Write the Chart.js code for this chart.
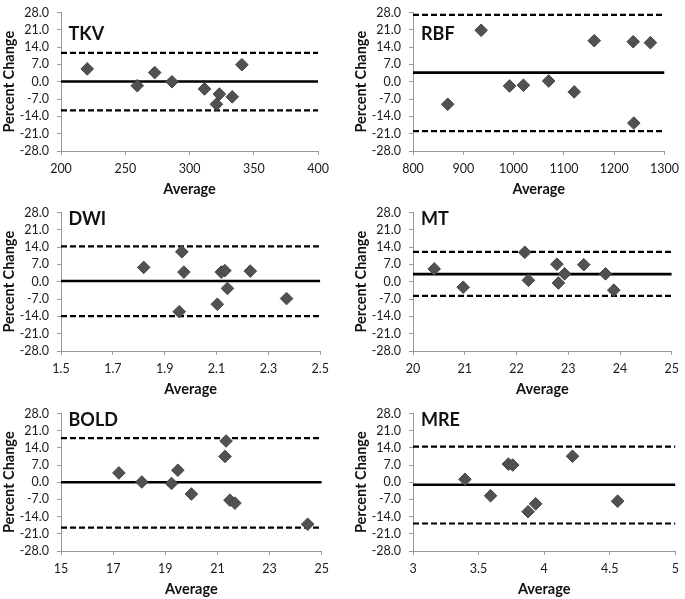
<!DOCTYPE html>
<html>
<head>
<meta charset="utf-8">
<script src="https://cdn.jsdelivr.net/npm/chart.js@4.4.1/dist/chart.umd.min.js"></script>
<style>
  html, body { margin: 0; padding: 0; background: #fff; overflow: hidden; }
  #wrap { position: relative; width: 685px; height: 599px; overflow: hidden; }
  #wrap canvas { position: absolute; }
</style>
</head>
<body>
<div id="wrap"></div>
<script>
// Panel names, in reading order
const panelNames = ['TKV', 'RBF', 'DWI', 'MT', 'BOLD', 'MRE'];

// Average (x) and percent change (y) for each panel
const tkvAvg = [220.4, 259.3, 272.9, 286.3, 311.6, 323.2, 320.9, 333.2, 340.7];
const tkvChange = [5.2, -1.6, 3.7, 0.0, -2.9, -5.0, -9.1, -6.1, 6.9];

const rbfAvg = [869, 935.5, 992, 1019.5, 1069.7, 1120.5, 1160.3, 1237.8, 1239, 1272];
const rbfChange = [-9.1, 20.8, -1.7, -1.4, 0.3, -4.1, 16.6, 16.2, -16.7, 15.8];

const dwiAvg = [1.819, 1.966, 1.974, 1.956, 2.103, 2.118, 2.132, 2.142, 2.23, 2.37];
const dwiChange = [5.8, 12.1, 3.9, -12.1, -9.1, 3.9, 4.5, -2.7, 4.3, -6.8];

const mtAvg = [20.41, 20.97, 22.16, 22.23, 22.78, 22.81, 22.93, 23.30, 23.72, 23.88];
const mtChange = [5.2, -2.2, 11.9, 0.6, 7.1, -0.5, 3.2, 6.9, 3.2, -3.4];

const boldAvg = [17.22, 18.1, 19.24, 19.48, 20.0, 21.29, 21.33, 21.48, 21.67, 24.46];
const boldChange = [3.8, 0.1, -0.5, 4.9, -4.8, 10.5, 16.8, -7.3, -8.5, -17.1];

const mreAvg = [3.396, 3.591, 3.727, 3.76, 3.877, 3.935, 4.216, 4.56];
const mreChange = [1.2, -5.5, 7.4, 7.0, -12.0, -8.8, 10.6, -7.7];

// Mean difference and limits of agreement
const meanDiff = [0.1, 3.7, 0.3, 3.1, 0.0, -1.0];
const upperLoA = [11.7, 27.0, 14.3, 12.1, 18.0, 14.5];
const lowerLoA = [-11.6, -20.0, -13.9, -5.7, -18.5, -16.8];

// Axis ranges
const xMin = [200, 800, 1.5, 20, 15, 3];
const xMax = [400, 1300, 2.5, 25, 25, 5];
const xStep = [50, 100, 0.2, 1, 2, 0.5];
const xDecimals = [0, 0, 1, 0, 0, null];
const yTickMin = -28;
const yTickMax = 28;
const yTickStep = 7;

const avgs = [tkvAvg, rbfAvg, dwiAvg, mtAvg, boldAvg, mreAvg];
const changes = [tkvChange, rbfChange, dwiChange, mtChange, boldChange, mreChange];

// Plot-area boxes [left, top, right, bottom] in page pixels
const plotBoxes = [
  [61, 7, 320, 151],
  [413, 7, 669, 151],
  [61, 207, 322, 351],
  [413, 207, 676, 351],
  [61, 408, 324, 551],
  [413, 408, 679, 551]
];
// Panel label baseline offset from plot top
const labelDy = [27, 27, 12, 12, 12, 12];

const FONT = 'Lato, "Open Sans", sans-serif';

// Draws the panel name inside the plot area
const panelLabel = {
  id: 'panelLabel',
  afterDraw(chart, args, opts) {
    const { ctx, chartArea } = chart;
    ctx.save();
    ctx.font = 'bold 18px ' + FONT;
    ctx.fillStyle = '#111';
    ctx.textBaseline = 'alphabetic';
    ctx.fillText(opts.text, chartArea.left + opts.dx, chartArea.top + opts.dy);
    ctx.restore();
  }
};

function hLine(i, y) {
  return [{ x: xMin[i], y: y }, { x: xMax[i], y: y }];
}

function buildPanel(i) {
  const [pl, pt, pr, pb] = plotBoxes[i];
  const rightCol = i % 2 === 1;
  const canvasLeft = rightCol ? 340 : 0;
  const canvasWidth = rightCol ? 345 : 335;
  const canvasTop = pt - 10;
  const xAxisHeight = 47;
  const canvasHeight = pb - canvasTop + xAxisHeight;

  const canvas = document.createElement('canvas');
  canvas.width = canvasWidth;
  canvas.height = canvasHeight;
  canvas.style.left = canvasLeft + 'px';
  canvas.style.top = canvasTop + 'px';
  canvas.style.width = canvasWidth + 'px';
  canvas.style.height = canvasHeight + 'px';
  document.getElementById('wrap').appendChild(canvas);

  const points = avgs[i].map((x, k) => ({ x: x, y: changes[i][k] }));

  new Chart(canvas.getContext('2d'), {
    type: 'scatter',
    data: {
      datasets: [
        {
          label: panelNames[i],
          data: points,
          pointStyle: 'rectRot',
          pointRadius: 6.3,
          pointHoverRadius: 6.3,
          backgroundColor: '#515151',
          borderColor: '#444',
          borderWidth: 1
        },
        {
          label: 'Mean',
          data: hLine(i, meanDiff[i]),
          showLine: true,
          pointRadius: 0,
          borderColor: '#000',
          borderWidth: 2.6
        },
        {
          label: 'Upper',
          data: hLine(i, upperLoA[i]),
          showLine: true,
          pointRadius: 0,
          borderColor: '#000',
          borderWidth: 2.2,
          borderDash: [6, 3]
        },
        {
          label: 'Lower',
          data: hLine(i, lowerLoA[i]),
          showLine: true,
          pointRadius: 0,
          borderColor: '#000',
          borderWidth: 2.2,
          borderDash: [6, 3]
        }
      ]
    },
    options: {
      responsive: false,
      animation: false,
      events: [],
      layout: { padding: { left: 0, top: 10, right: canvasLeft + canvasWidth - pr, bottom: 0 } },
      plugins: {
        legend: { display: false },
        tooltip: { enabled: false },
        panelLabel: { text: panelNames[i], dx: rightCol ? 8 : 7.5, dy: labelDy[i] }
      },
      scales: {
        x: {
          type: 'linear',
          min: xMin[i],
          max: xMax[i],
          afterFit(scale) { scale.height = xAxisHeight; },
          ticks: {
            stepSize: xStep[i],
            autoSkip: false,
            maxRotation: 0,
            padding: 6,
            color: '#1a1a1a',
            font: { family: FONT, size: 12.5 },
            callback: v => xDecimals[i] === null ? String(v) : Number(v).toFixed(xDecimals[i])
          },
          grid: { drawOnChartArea: false, drawTicks: true, tickLength: 4, color: '#999' },
          border: { color: '#999' },
          title: {
            display: true,
            text: 'Average',
            color: '#111',
            padding: 0,
            font: { family: FONT, size: 14.5, weight: 'bold' }
          }
        },
        y: {
          min: yTickMin,
          max: yTickMax,
          afterFit(scale) { scale.width = pl - canvasLeft; },
          ticks: {
            stepSize: yTickStep,
            autoSkip: false,
            padding: 8,
            color: '#1a1a1a',
            font: { family: FONT, size: 12.5 },
            callback: v => Number(v).toFixed(1)
          },
          grid: { drawOnChartArea: false, drawTicks: true, tickLength: 4, color: '#999' },
          border: { color: '#999' },
          title: {
            display: true,
            text: 'Percent Change',
            color: '#111',
            padding: { top: rightCol ? 13 : 1, bottom: 0 },
            font: { family: FONT, size: 14.5, weight: 'bold' }
          }
        }
      }
    },
    plugins: [panelLabel]
  });
}

function buildAll() {
  for (let i = 0; i < panelNames.length; i++) buildPanel(i);
}

Promise.all([
  document.fonts.load('12px Lato'),
  document.fonts.load('bold 18px Lato')
]).then(buildAll, buildAll);
</script>
</body>
</html>
